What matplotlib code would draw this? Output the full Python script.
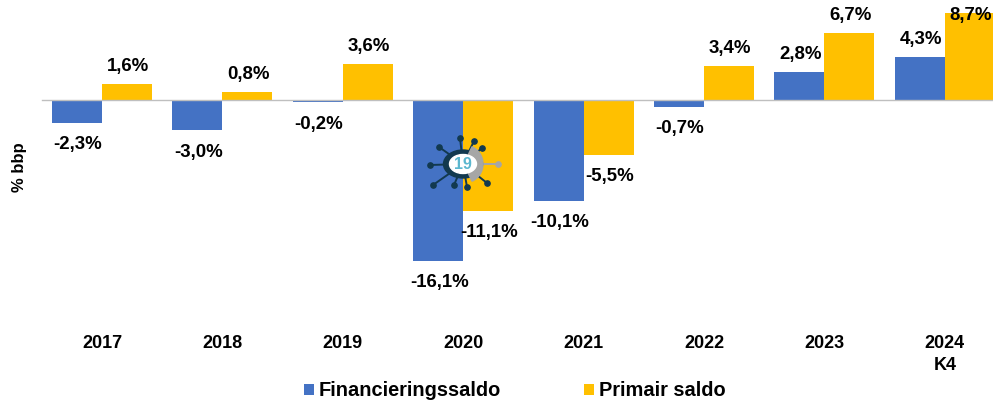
import numpy as np
import matplotlib
matplotlib.use('Agg')
import matplotlib.pyplot as plt
from matplotlib.patches import Ellipse, Wedge

W, H = 993, 405

years = ['2017', '2018', '2019', '2020', '2021', '2022', '2023', '2024\nK4']
financiering = [-2.3, -3.0, -0.2, -16.1, -10.1, -0.7, 2.8, 4.3]
primair = [1.6, 0.8, 3.6, -11.1, -5.5, 3.4, 6.7, 8.7]

blue = '#4472C4'
yellow = '#FFC000'

plt.rcParams['font.family'] = ['Liberation Sans', 'DejaVu Sans']
plt.rcParams['font.weight'] = 'bold'

fig = plt.figure(figsize=(W / 100, H / 100), dpi=100)

# axes in pixels: 42..993 wide, top of image to y=320
ax = fig.add_axes([42 / W, 1 - 320 / H, 1 - 42 / W, 320 / H])
x = np.arange(len(years))
width = 0.415

ax.bar(x - width / 2, financiering, width, color=blue, label='Financieringssaldo')
ax.bar(x + width / 2, primair, width, color=yellow, label='Primair saldo')

ax.set_xlim(-0.498, 7.4)
ax.set_ylim(-22, 10)

for s in ['top', 'right', 'left']:
    ax.spines[s].set_visible(False)
ax.spines['bottom'].set_position(('data', 0))
ax.spines['bottom'].set_color('#BFBFBF')
ax.spines['bottom'].set_linewidth(1)
ax.set_yticks([])
ax.set_xticks([])


def put_labels(xs, vals):
    for xi, v in zip(xs, vals):
        txt = f'{v:.1f}%'.replace('.', ',')
        off = 1.75 if v > 0 else -2.2
        y = min(v + off, 8.45)
        ax.text(xi, y, txt, ha='center', va='center', fontsize=13.4, fontweight='bold', color='black')


put_labels(x - width / 2 + 0.008, financiering)
put_labels(x + width / 2 + 0.01, primair)

# category labels placed below the plot
for xi, lab in zip(x, years):
    ax.annotate(lab, (xi, 0), xycoords=ax.get_xaxis_transform(), xytext=(0, -15),
                textcoords='offset pixels', ha='center', va='top',
                fontsize=13, fontweight='bold', linespacing=1.35)

fig.text(19.5 / W, 1 - 167 / H, '% bbp', rotation=90, ha='center', va='center',
         fontsize=12, fontweight='bold')

fig.legend(loc='center left', bbox_to_anchor=(304 / W, 1 - 391 / H), ncol=2, frameon=False,
           fontsize=14.4, handlelength=0.5, handleheight=0.5, handletextpad=0.25,
           columnspacing=4.15, borderpad=0, borderaxespad=0)

# corona icon on top of the 2020 bars, drawn in pixel coordinates
ic = fig.add_axes([0, 0, 1, 1])
ic.set_xlim(0, W)
ic.set_ylim(H, 0)
ic.axis('off')
ic.patch.set_alpha(0)
cx, cy = 463, 164
dark = '#12394F'
spikes = [(-3, -26), (11, -23), (19, -16), (-24, -17), (-33, 1), (-30, 21),
          (-9, 21), (4, 23), (24, 19)]
for dx, dy in spikes:
    ic.plot([cx, cx + dx], [cy, cy + dy], color=dark, lw=1.4, zorder=1)
    ic.plot(cx + dx, cy + dy, 'o', color=dark, ms=3.8, zorder=1)
ic.plot([cx, cx + 35], [cy, cy], color='#A6A6A6', lw=1.4, zorder=1)
ic.plot(cx + 35, cy, 'o', color='#A6A6A6', ms=3.8, zorder=1)
ic.add_patch(Ellipse((cx, cy), 39, 28, color=dark, zorder=2))
ic.add_patch(Wedge((cx + 1, cy), 19, -65, 65, color='#A6A6A6', zorder=3))
ic.add_patch(Ellipse((cx, cy), 27, 19, color='white', zorder=4))
ic.text(cx, cy + 0.5, '19', ha='center', va='center', fontsize=11.5, fontweight='bold',
        color='#5BB7CF', zorder=5)

fig.savefig('out.png', dpi=100)
